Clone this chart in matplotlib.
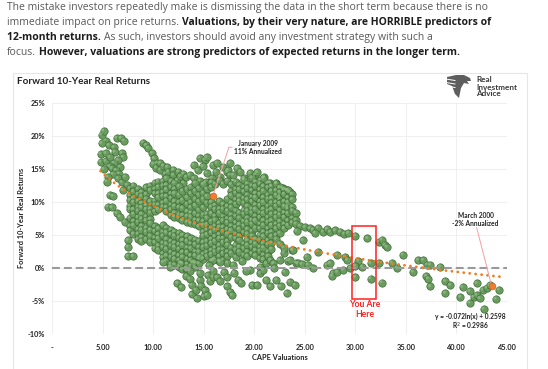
import matplotlib
matplotlib.use("Agg")
import matplotlib.pyplot as plt
import matplotlib.transforms as mtransforms
import numpy as np
from matplotlib.patches import Rectangle, Polygon
from matplotlib.lines import Line2D

W, H = 548, 369

# ---- data: (CAPE, forward 10-year real return in %) ----
arm_early = [
    (4.9, 20.2), (5.1, 20.8), (5.3, 19.3), (4.9, 18.9), (5.6, 18.6), (6.1, 18.3),
    (6.4, 19.7), (6.8, 19.7), (7.1, 19.3), (6.2, 17.6), (6.9, 17.4), (4.8, 17.3),
    (5.3, 17.4), (7.0, 16.8), (4.8, 16.1), (5.3, 16.2), (5.7, 16.8), (6.5, 16.3),
    (6.1, 15.9), (5.7, 15.4), (5.9, 15.1), (5.1, 15.0), (6.7, 15.3), (6.3, 14.8),
    (6.6, 14.3), (6.0, 14.2), (5.5, 13.8), (5.4, 13.1), (6.5, 13.6), (6.9, 13.0),
    (7.2, 13.8), (7.4, 12.6), (7.0, 11.8), (5.7, 11.1), (6.0, 10.9), (5.5, 9.3),
    (5.9, 9.2), (6.4, 8.3), (6.7, 7.8), (7.2, 7.0), (7.5, 4.2), (7.5, 3.2),
    (7.5, 1.8), (8.0, 1.8),
]

arm_second = [
    (9.0, 19.0), (9.3, 18.6), (9.5, 18.2), (9.9, 17.4), (10.1, 16.6), (10.4, 15.9),
    (10.0, 15.8), (10.3, 15.2), (10.7, 15.9), (10.7, 14.9), (11.0, 15.5), (11.4, 15.3),
    (11.2, 14.3), (11.5, 14.6), (12.0, 14.9), (12.0, 14.1), (12.5, 14.6), (12.4, 13.3),
    (12.7, 13.9), (13.0, 14.3), (13.0, 12.9), (13.3, 13.8), (13.6, 14.1), (14.0, 13.6),
]

cluster_top = [
    (14.6, 16.7), (15.1, 16.4), (15.3, 16.8), (14.0, 15.6), (14.4, 14.8), (14.9, 15.4),
    (15.3, 14.4), (15.8, 13.6), (15.9, 15.6), (16.3, 15.9), (16.2, 14.6), (16.6, 13.8),
    (16.9, 15.3), (17.3, 14.5), (17.4, 14.8), (17.6, 15.9), (17.6, 14.1), (17.9, 14.1),
    (18.3, 15.1), (18.6, 14.6), (19.0, 13.6), (19.6, 14.4), (20.1, 14.1), (20.3, 14.5),
    (20.6, 13.3), (21.0, 13.8), (21.6, 12.9), (22.2, 12.9), (22.8, 12.1), (23.2, 11.8),
    (23.5, 11.5), (22.5, 10.8), (23.3, 9.3), (14.6, 13.2), (15.2, 13.0),
]

# dense body of the cloud, one column of returns per CAPE reading
main_cols = [
    (7.7, [12.1, 11.0, 10.3, 9.4, 8.9, 7.6, 6.4, 5.7]),
    (8.05, [12.5, 11.6, 10.6, 10.0, 8.9, 8.2, 7.1, 6.5, 5.2]),
    (8.5, [12.0, 11.2, 10.2, 9.3, 8.7, 7.7, 7.0, 5.9, 5.2, 4.4]),
    (8.85, [11.5, 10.9, 9.8, 9.2, 8.2, 7.5, 6.4, 5.8, 4.7, 4.1]),
    (9.3, [12.2, 11.2, 10.5, 9.5, 8.9, 7.8, 7.2, 6.1, 5.5, 4.4]),
    (9.7, [12.5, 11.8, 10.1, 9.0, 8.4, 7.4, 6.8, 5.8, 4.9, 4.0]),
    (10.15, [12.9, 12.0, 11.3, 10.2, 9.6, 8.6, 6.3, 5.6, 4.6, 3.9, 3.0]),
    (10.5, [13.1, 12.3, 11.3, 10.7, 9.6, 8.9, 6.0, 5.1, 4.5, 3.4, 2.8]),
    (10.95, [13.2, 12.5, 11.5, 10.9, 9.9, 9.3, 6.5, 5.5, 4.9, 3.8, 3.2, 2.2, 1.6]),
    (11.3, [13.6, 12.6, 11.9, 10.9, 10.2, 9.2, 8.6, 6.1, 5.4, 4.4, 3.7, 2.9, 1.9, 1.1]),
    (11.75, [13.2, 12.3, 11.3, 10.6, 9.6, 8.9, 8.0, 5.8, 5.1, 4.1, 3.4, 2.4, 1.7, 0.6]),
    (12.1, [12.9, 12.0, 11.3, 10.1, 9.4, 8.4, 7.8, 5.5, 4.9, 3.8, 3.2, 2.1, 1.4, 0.5]),
    (12.55, [12.4, 11.1, 10.0, 9.2, 8.1, 7.6, 5.3, 4.6, 3.6, 2.9, 1.9, 1.2, 0.2]),
    (12.9, [11.7, 10.3, 9.1, 8.0, 7.2, 5.0, 4.2, 3.5, 2.4, 1.7, 0.7, -0.2]),
    (13.35, [12.0, 10.7, 9.7, 8.6, 7.9, 7.0, 4.8, 4.1, 3.1, 2.4, 1.4, 0.6, -0.4]),
    (13.7, [12.3, 11.3, 10.0, 9.2, 8.4, 7.8, 6.8, 4.5, 3.7, 3.0, 1.9, 1.2, 0.3]),
    (14.15, [12.9, 11.7, 10.5, 9.5, 8.3, 7.3, 6.7, 4.3, 3.6, 2.5, 1.9, 0.8, 0.1]),
    (14.5, [12.1, 11.1, 10.1, 8.8, 7.9, 7.2, 6.3, 4.1, 3.2, 2.5, 1.4, 0.7]),
    (14.95, [12.7, 11.4, 10.5, 9.2, 8.1, 7.1, 6.5, 5.5, 4.9, 3.9, 3.2, 2.1, 1.4]),
    (15.3, [12.0, 10.9, 9.9, 8.2, 7.6, 6.6, 5.8, 5.1, 4.1, 3.4, 2.4, 1.8]),
    (15.75, [13.0, 12.3, 10.0, 9.3, 8.3, 7.1, 6.1, 5.4, 4.4, 3.8, 2.7, 2.1, 1.1]),
    (16.1, [12.8, 9.5, 8.9, 7.9, 7.3, 6.4, 5.8, 4.8, 4.1, 3.1, 2.5, 1.4]),
    (16.55, [13.3, 10.1, 9.0, 8.4, 6.8, 6.2, 5.1, 4.5, 3.5, 2.8, 1.8, 1.1]),
    (16.9, [12.8, 9.7, 9.0, 7.8, 7.2, 6.2, 5.6, 4.5, 3.9, 2.8, 2.2, 1.2]),
    (17.35, [13.2, 10.5, 9.4, 8.7, 7.5, 6.9, 5.9, 5.2, 4.1, 3.5, 2.5, 1.8, 0.8]),
    (17.7, [12.7, 11.7, 11.0, 9.9, 9.2, 8.1, 7.4, 6.4, 5.7, 4.7, 3.1, 2.3]),
    (18.15, [13.1, 12.0, 11.4, 10.4, 9.7, 8.7, 7.9, 6.9, 6.2, 5.2, 4.5, 3.5, 2.8, 1.7]),
    (18.5, [12.6, 11.9, 10.9, 10.2, 8.4, 7.6, 6.6, 5.9, 4.9, 4.2, 3.2, 2.5]),
    (18.95, [13.4, 12.3, 11.6, 10.6, 9.9, 8.8, 8.2, 7.1, 6.4, 5.4, 3.7, 3.0, 2.0]),
    (19.3, [12.8, 12.1, 11.1, 10.4, 9.4, 8.7, 7.6, 7.0, 5.9, 5.2, 4.2, 3.5, 2.5, 1.8]),
    (19.75, [13.7, 12.5, 11.8, 10.8, 10.1, 9.0, 8.4, 7.3, 6.7, 5.6, 4.9, 3.9, 3.2, 2.2]),
    (20.1, [13.1, 12.4, 11.3, 10.7, 9.6, 8.9, 7.9, 7.2, 6.1, 4.4, 3.7, 2.7, 1.9]),
    (20.55, [12.8, 11.9, 11.2, 10.1, 9.5, 8.4, 7.7, 6.7, 6.0, 5.0, 4.3, 3.2, 2.6, 1.5]),
    (20.9, [13.6, 12.4, 11.7, 10.7, 10.0, 8.9, 8.3, 7.2, 6.5, 5.5, 4.8, 3.8, 3.1, 2.0, 1.3]),
    (21.35, [12.9, 12.2, 11.1, 10.5, 9.4, 8.7, 7.7, 7.0, 6.0, 5.3, 4.2, 3.6, 2.5, 1.8]),
    (21.7, [12.4, 11.7, 10.6, 9.9, 8.9, 8.2, 7.2, 6.5, 5.5, 4.8, 3.8, 2.9]),
    (22.15, [12.8, 11.8, 11.1, 10.0, 9.4, 8.3, 7.7, 6.7, 6.0, 5.0, 4.4]),
    (22.5, [12.2, 11.5, 10.5, 9.8, 8.8, 8.1, 7.1, 6.4, 5.3, 3.7]),
    (22.95, [11.9, 11.2, 10.1, 9.4, 8.4, 7.7, 6.7, 6.0, 2.3]),
    (23.3, [11.8, 10.7, 10.0, 9.0, 8.3, 7.2, 6.5, 1.1]),
    (23.75, [11.2, 10.4, 9.3, 8.7, 7.6, 6.9, 2.8]),
    (24.1, [8.4, 7.3, 6.7, 0.8]),
]

near_zero = [
    (11.0, 0.9), (11.7, 0.2), (12.7, 0.8), (13.3, 0.0), (13.9, 0.9), (14.6, 1.7),
    (15.9, 1.2), (15.5, 0.4), (16.6, 0.9), (17.9, 0.5), (18.8, 1.1), (19.6, -0.3),
    (20.6, 0.2), (21.2, 0.7), (21.6, 1.2), (21.9, 0.7), (22.5, 1.2), (22.0, 0.0),
    (23.0, -0.6),
]

below_zero = [
    (12.4, -2.3), (12.8, -2.9), (13.3, -1.2), (13.6, -0.4), (13.6, -1.6), (13.8, -2.6),
    (13.8, -4.0), (14.2, -3.3), (14.3, -4.6), (14.6, -1.8), (14.6, -0.8), (14.7, -2.7),
    (15.0, -4.3), (15.1, -3.4), (15.3, -4.1), (15.4, -1.1), (15.6, -1.9), (15.9, -1.3),
    (15.9, -0.4), (16.3, -1.4), (16.6, -2.0), (17.0, -0.6), (17.3, -1.4), (17.3, -2.8),
    (17.6, -3.6), (17.8, -4.1), (18.0, -0.7), (18.4, -1.8), (18.7, -2.2), (19.2, -0.4),
    (19.8, -2.6), (20.3, -2.6), (20.6, -0.8), (20.9, -0.3), (21.2, -1.8), (21.6, -2.8),
    (22.2, -1.8), (22.6, -2.8), (23.2, -3.8), (23.5, -2.1), (24.0, -2.6),
]

right_side = [
    (24.5, 6.4), (25.0, 6.2), (25.5, 6.0), (25.8, 5.8), (26.3, 6.1), (26.8, 5.5),
    (27.2, 5.9), (27.5, 5.5), (28.0, 5.7), (28.5, 5.5), (28.9, 5.2), (29.3, 5.3),
    (26.0, 5.3), (24.2, 5.6), (24.8, 4.2), (23.8, 2.7), (22.9, 3.1), (23.5, 1.2),
    (24.3, 0.7), (24.7, 0.6), (25.2, 1.7), (26.3, 2.5), (25.8, 0.0), (25.3, 0.5),
    (27.2, 0.5), (27.5, 0.7), (27.8, -0.8), (27.7, -1.2), (28.2, -0.6), (28.8, -0.3),
    (28.2, 2.0), (29.0, 1.7), (29.2, 1.2), (29.5, 0.0),
    (30.0, 4.9), (31.2, 4.5), (30.3, 1.1), (30.0, 0.3), (30.7, 0.2), (31.5, 0.7),
    (30.0, -1.4), (31.5, -1.6),
    (32.3, 4.0), (32.6, 4.3), (32.9, 3.5), (33.1, 3.2), (32.6, -2.2), (32.3, 0.8),
    (33.6, 0.8), (34.1, 0.0), (34.7, 2.0), (35.7, -0.6), (36.2, 1.2), (36.7, 1.2),
    (37.1, 0.5), (37.4, 0.5), (37.0, -1.2), (37.2, -1.6), (37.4, -2.8), (38.4, 0.2),
    (38.9, -2.0), (39.4, -2.6), (38.9, -3.8), (40.6, -2.9), (41.3, -3.5), (40.4, -4.4),
    (41.3, -5.3), (42.0, -2.3), (41.7, -4.4), (42.0, -4.1), (42.3, -4.6), (42.7, -6.2),
    (42.6, -3.3), (43.0, -3.0), (43.3, -2.6), (44.2, -3.3), (43.9, -4.7),
]

jan_2009 = (15.9, 10.9)
mar_2000 = (43.5, -2.8)
fit_a, fit_b = -0.072, 0.2598
fit_label = "y = -0.072ln(x) + 0.2598"
r2_label = "R$^2$ = 0.2986"

x_ticks = [0, 5, 10, 15, 20, 25, 30, 35, 40, 45]
y_ticks = [-10, -5, 0, 5, 10, 15, 20, 25]

header = [
    [("The mistake investors repeatedly make is dismissing the data in the short term because there is no", False)],
    [("immediate impact on price returns.", False),
     ("Valuations, by their very nature, are HORRIBLE predictors of", True)],
    [("12-month returns.", True),
     ("As such, investors should avoid any investment strategy with such a", False)],
    [("focus.", False),
     ("However, valuations are strong predictors of expected returns in the longer term.", True)],
]

# ---- assemble the points ----
pts = list(arm_early) + list(arm_second) + list(cluster_top)
for cx, ys in main_cols:
    pts += [(cx, y) for y in ys]
pts += near_zero + below_zero + right_side
cape = np.array([p[0] for p in pts])
ret = np.array([p[1] for p in pts])

fig = plt.figure(figsize=(W / 100, H / 100), dpi=100)
fig.patch.set_facecolor("white")


def fx(px):
    return px / W


def fy(py):
    return 1 - py / H


# header paragraph with mixed bold / regular runs
renderer = fig.canvas.get_renderer()
HFONT, HSIZE = "Open Sans", 7.5


def text_width(s, bold):
    t = fig.text(0, 0, s, fontsize=HSIZE, family=HFONT, weight="bold" if bold else "normal")
    w = t.get_window_extent(renderer).width
    t.remove()
    return w


space_w = text_width("a a", False) - text_width("aa", False)
for i, line in enumerate(header):
    x = 7
    y = 7.5 + i * 15
    for j, (s, bold) in enumerate(line):
        if j > 0:
            x += space_w
        t = fig.text(fx(x), fy(y), s, fontsize=HSIZE, family=HFONT,
                     weight="bold" if bold else "normal",
                     color="#1c1c1c" if bold else "#5a5a5a", va="center", ha="left")
        x += t.get_window_extent(renderer).width

# chart frame
fig.patches.append(Rectangle((fx(13), -0.02), fx(527) - fx(13), fy(73) + 0.02,
                             transform=fig.transFigure, fill=False,
                             edgecolor="#e6e6e6", linewidth=0.8))

fig.text(fx(17), fy(82), "Forward 10-Year Real Returns", fontsize=7.1, family="Lato",
         weight="bold", color="#222222", va="center", ha="left")

# logo
eagle = [(447, 77), (456, 75), (464, 75), (470, 78), (471, 81), (467, 81), (469, 84),
         (464, 83), (461, 88), (459, 98), (455, 94), (452, 86), (447, 84)]
fig.patches.append(Polygon([(fx(a), fy(b)) for a, b in eagle], closed=True,
                           transform=fig.transFigure, facecolor="#5e5e5e", edgecolor="none"))
for yy in (79, 82.5, 86):
    fig.lines.append(Line2D([fx(446), fx(455)], [fy(yy), fy(yy + 1.5)],
                            transform=fig.transFigure, color="white", lw=0.7))
for k, word in enumerate(["Real", "Investment", "Advice"]):
    fig.text(fx(476), fy(80 + k * 7), word, fontsize=5.9, family="Lato", weight="bold",
             color="#3a3a3a", va="center", ha="left")

ax = fig.add_axes([fx(52), fy(334), fx(507) - fx(52), fy(103) - fy(334)])
ax.set_xlim(0, 45)
ax.set_ylim(-10, 25)
ax.set_xticks(x_ticks)
ax.set_yticks(y_ticks)
ax.set_xticklabels(["-" if v == 0 else f"{v:.2f}" for v in x_ticks])
ax.set_yticklabels([f"{v}%" for v in y_ticks])
for lab in ax.get_xticklabels() + ax.get_yticklabels():
    lab.set_fontfamily("Lato")
    lab.set_fontweight("bold")
    lab.set_fontsize(5.3)
    lab.set_color("#222222")
ax.tick_params(length=0)
ax.tick_params(axis="x", pad=7)
ax.tick_params(axis="y", pad=5)
for sp in ax.spines.values():
    sp.set_visible(False)
ax.grid(True, color="#ececec", linewidth=0.6)
ax.set_axisbelow(True)

# green "spheres": body plus a small highlight nudged up-left
ax.scatter(cape, ret, s=28, facecolor="#6a9c5f", edgecolor="#3d6b35",
           linewidth=0.5, zorder=2)
shine = mtransforms.offset_copy(ax.transData, fig=fig, x=-0.9, y=0.9, units="dots")
ax.scatter(cape, ret, s=5, facecolor="#9cc692", edgecolor="none", alpha=0.6,
           transform=shine, zorder=2)

ax.axhline(0, color="#9a9a9a", linewidth=1.5, linestyle=(0, (3.8, 1.9)), zorder=3)

xs = np.linspace(4.8, 44.6, 300)
ax.plot(xs, (fit_a * np.log(xs) + fit_b) * 100, color="#f07c1e", linewidth=2.0,
        linestyle=(0, (0.05, 2.1)), dash_capstyle="round", zorder=4)

# highlighted months
ax.plot([jan_2009[0], 17.5, 17.8], [jan_2009[1], 18.3, 18.3], color="#f2a0a0", lw=0.7, zorder=4)
ax.plot([mar_2000[0], 42.0], [mar_2000[1], 6.1], color="#f2a0a0", lw=0.7, zorder=4)
ax.scatter([jan_2009[0], mar_2000[0]], [jan_2009[1], mar_2000[1]], s=24,
           facecolor="#ed7d31", edgecolor="#c55a11", linewidth=0.4, zorder=5)

ann = dict(fontsize=4.8, family="Lato", weight="bold", color="#222222", ha="center", va="center")
ax.text(20.4, 18.9, "January 2009", **ann)
ax.text(20.4, 17.6, "11% Annualized", **ann)
ax.text(41.9, 8.0, "March 2000", **ann)
ax.text(41.9, 6.7, "-2% Annualized", **ann)
ax.text(41.4, -7.4, fit_label, **ann)
ax.text(41.4, -8.8, r2_label, **ann)

ax.add_patch(Rectangle((29.7, -4.7), 2.35, 11.1, fill=False, edgecolor="#ff2020",
                       linewidth=1.1, zorder=6))
ax.text(30.9, -5.5, "You Are", fontsize=6.2, family="Lato", weight="bold",
        color="#ff2020", ha="center", va="center")
ax.text(30.9, -7.0, "Here", fontsize=6.2, family="Lato", weight="bold",
        color="#ff2020", ha="center", va="center")

fig.text(fx(22), fy(218), "Forward 10-Year Real Returns", rotation=90, fontsize=5.3,
         family="Lato", weight="bold", color="#222222", ha="center", va="center")
fig.text(fx(280), fy(357), "CAPE Valuations", fontsize=5.3, family="Lato",
         weight="bold", color="#222222", ha="center", va="center")

fig.savefig("out.png", dpi=100, facecolor="white")
